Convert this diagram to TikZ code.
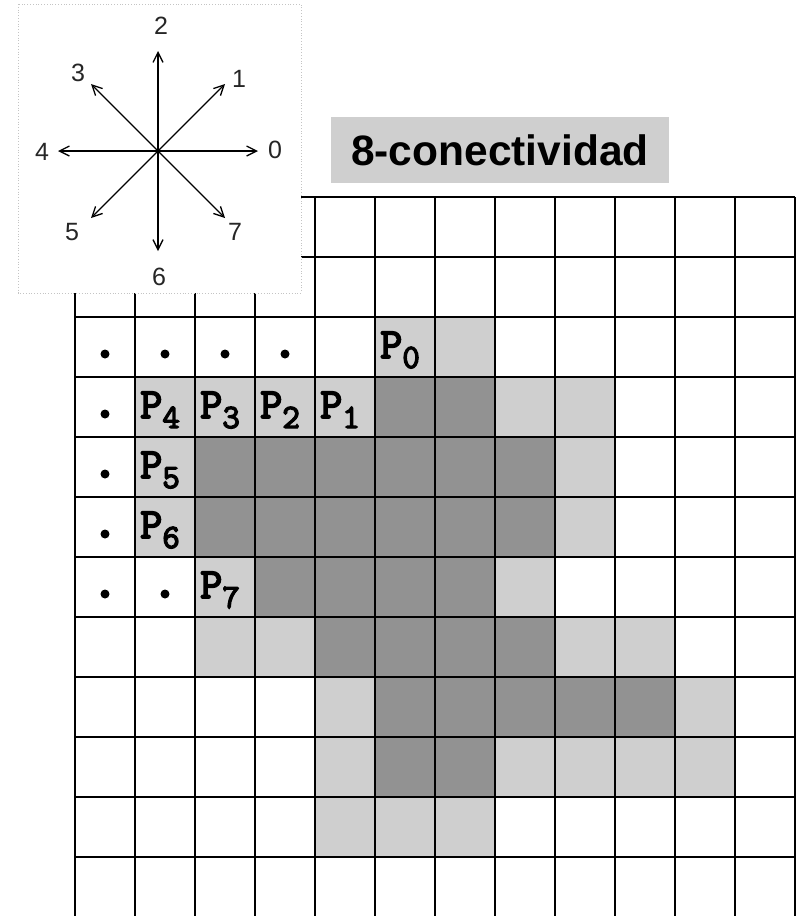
\documentclass[tikz,border=0pt]{standalone}
\usepackage{fontspec}
\setmainfont{Liberation Sans}
\newfontfamily\monofam{Latin Modern Mono}[FakeBold=4]
\usetikzlibrary{arrows.meta}
\definecolor{pixlight}{HTML}{CFCFCF}
\definecolor{pixdark}{HTML}{929292}
\definecolor{framegray}{HTML}{C4C4C4}

\begin{document}
\begin{tikzpicture}[x=1pt,y=-1pt,
  gridline/.style={line width=1.6pt, black},
  pixdot/.style={circle, fill=black, inner sep=0pt, minimum size=9pt},
  plabel/.style={anchor=base west, inner sep=0pt, font=\monofam\fontsize{43}{43}\selectfont},
  dirarrow/.style={line width=1.3pt, -{Straight Barb[length=10pt,width=10pt]}},
  dirlabel/.style={font=\fontsize{25}{25}\selectfont, inner sep=0pt, text=black!85},
  titlebox/.style={fill=pixlight, inner sep=0pt, minimum width=338pt, minimum height=66pt,
    font=\bfseries\fontsize{42.5}{42.5}\selectfont},
]
\useasboundingbox (0,0) rectangle (800,916);
\fill[white] (0,0) rectangle (800,916);

% border pixels of the region (light grey)
\foreach \c/\r in {5/2,6/2,
                   1/3,2/3,3/3,4/3,7/3,8/3,
                   1/4,8/4, 1/5,8/5, 2/6,7/6,
                   2/7,3/7,8/7,9/7, 4/8,10/8,
                   4/9,7/9,8/9,9/9,10/9, 4/10,5/10,6/10}
  \fill[pixlight] ({75+60*\c},{197+60*\r}) rectangle ++(60,60);

% object pixels (dark grey)
\foreach \c/\r in {5/3,6/3,
                   2/4,3/4,4/4,5/4,6/4,7/4,
                   2/5,3/5,4/5,5/5,6/5,7/5,
                   3/6,4/6,5/6,6/6,
                   4/7,5/7,6/7,7/7,
                   5/8,6/8,7/8,8/8,9/8,
                   5/9,6/9}
  \fill[pixdark] ({75+60*\c},{197+60*\r}) rectangle ++(60,60);

% grid
\foreach \i in {0,...,12}
  \draw[gridline] ({75+60*\i},197) -- ({75+60*\i},916);
\foreach \j in {0,...,11}
  \draw[gridline] (75,{197+60*\j}) -- (795,{197+60*\j});

% visited background pixels
\foreach \c/\r [count=\k] in {0/2,1/2,2/2,3/2,0/3,0/4,0/5,0/6,1/6}
  \node[pixdot] (dot\k) at ({105+60*\c},{234+60*\r}) {};

% contour points
\foreach \k/\c/\r in {0/5/2,1/4/3,2/3/3,3/2/3,4/1/3,5/1/4,6/1/5,7/2/6}
  \node[plabel] (p\k) at ({80+60*\c},{238+60*\r})
    {P\raisebox{-10pt}{\fontsize{34}{34}\selectfont\k}};

% direction code inset
\draw[framegray, dotted, line width=0.8pt, fill=white] (18,4) rectangle (301,293);
\coordinate (ctr) at (158,151);
\foreach \k/\x/\y in {0/258/151, 1/225/84, 2/158/51, 3/91/84,
                      4/58/151, 5/91/218, 6/158/251, 7/225/218}
  \coordinate (e\k) at (\x,\y);
\foreach \k in {0,...,7}
  \draw[dirarrow] (ctr) -- (e\k);
\foreach \k/\x/\y in {0/275/150, 1/239/79, 2/161/26, 3/78/73,
                      4/42/152, 5/72/232, 6/159/277, 7/235/232}
  \node[dirlabel] (l\k) at (\x,\y) {\k};

% title
\node[titlebox] (title) at (500,150) {8-conectividad};
\end{tikzpicture}
\end{document}
